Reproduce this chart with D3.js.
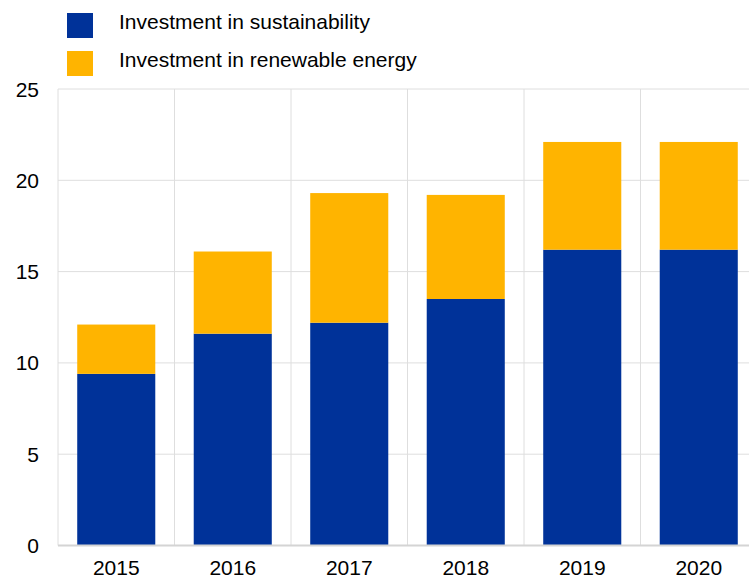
<!DOCTYPE html>
<html>
<head>
<meta charset="utf-8">
<script src="https://cdn.jsdelivr.net/npm/d3@7"></script>
<style>
  html, body { margin: 0; padding: 0; background: #fff; }
  svg { display: block; font-family: "Liberation Sans", Arial, sans-serif; }
</style>
</head>
<body>
<svg id="chart" width="749" height="579"></svg>
<script>
// Stacked investment figures by year
const years = ["2015", "2016", "2017", "2018", "2019", "2020"];
const sustainability = [9.4, 11.6, 12.2, 13.5, 16.2, 16.2];
const renewable = [2.7, 4.5, 7.1, 5.7, 5.9, 5.9];
const seriesNames = ["Investment in sustainability", "Investment in renewable energy"];
const seriesColors = ["#003299", "#FFB400"];
const yTicks = [0, 5, 10, 15, 20, 25];

const svg = d3.select("#chart");
const margin = { left: 58, right: 757, top: 89, bottom: 545.5 };
const fontSize = 21;

const x = d3.scaleBand().domain(years).range([margin.left, margin.right]).paddingInner(0.33).paddingOuter(0.165);
const bandEdges = d3.scaleBand().domain(years).range([margin.left, margin.right]).padding(0);
const y = d3.scaleLinear().domain([0, 25]).range([margin.bottom, margin.top]);

// Gridlines
const grid = svg.append("g");
grid.selectAll("line.h").data(yTicks.filter(d => d > 0)).join("line")
  .attr("x1", margin.left).attr("x2", margin.right)
  .attr("y1", d => y(d)).attr("y2", d => y(d))
  .attr("stroke", "#dedede").attr("stroke-width", 1);
grid.selectAll("line.v").data(years).join("line")
  .attr("x1", d => bandEdges(d)).attr("x2", d => bandEdges(d))
  .attr("y1", margin.top).attr("y2", margin.bottom)
  .attr("stroke", "#dedede").attr("stroke-width", 1);

// Stacked bars
const rows = years.map((yr, i) => ({ year: yr, s: sustainability[i], r: renewable[i] }));
const stacked = d3.stack().keys(["s", "r"])(rows);
svg.append("g").selectAll("g").data(stacked).join("g")
  .attr("fill", (d, i) => seriesColors[i])
  .selectAll("rect").data(d => d).join("rect")
  .attr("x", d => x(d.data.year))
  .attr("width", x.bandwidth())
  .attr("y", d => y(d[1]))
  .attr("height", d => y(d[0]) - y(d[1]));

// Baseline axis
svg.append("line")
  .attr("x1", margin.left).attr("x2", margin.right)
  .attr("y1", margin.bottom).attr("y2", margin.bottom)
  .attr("stroke", "#d4d4d4").attr("stroke-width", 2);

// Y axis labels
svg.append("g").selectAll("text").data(yTicks).join("text")
  .attr("x", 39).attr("y", d => y(d) + 7.5)
  .attr("text-anchor", "end")
  .attr("font-size", fontSize).attr("fill", "#000")
  .text(d => d);

// X axis labels
svg.append("g").selectAll("text").data(years).join("text")
  .attr("x", d => x(d) + x.bandwidth() / 2).attr("y", 575)
  .attr("text-anchor", "middle")
  .attr("font-size", fontSize).attr("fill", "#000")
  .text(d => d);

// Legend
const legend = svg.append("g");
seriesNames.forEach((name, i) => {
  legend.append("rect")
    .attr("x", 67).attr("y", 13 + i * 38)
    .attr("width", 26).attr("height", 25)
    .attr("fill", seriesColors[i]);
  legend.append("text")
    .attr("x", 119).attr("y", 29 + i * 38)
    .attr("font-size", fontSize).attr("fill", "#000")
    .text(name);
});
</script>
</body>
</html>
